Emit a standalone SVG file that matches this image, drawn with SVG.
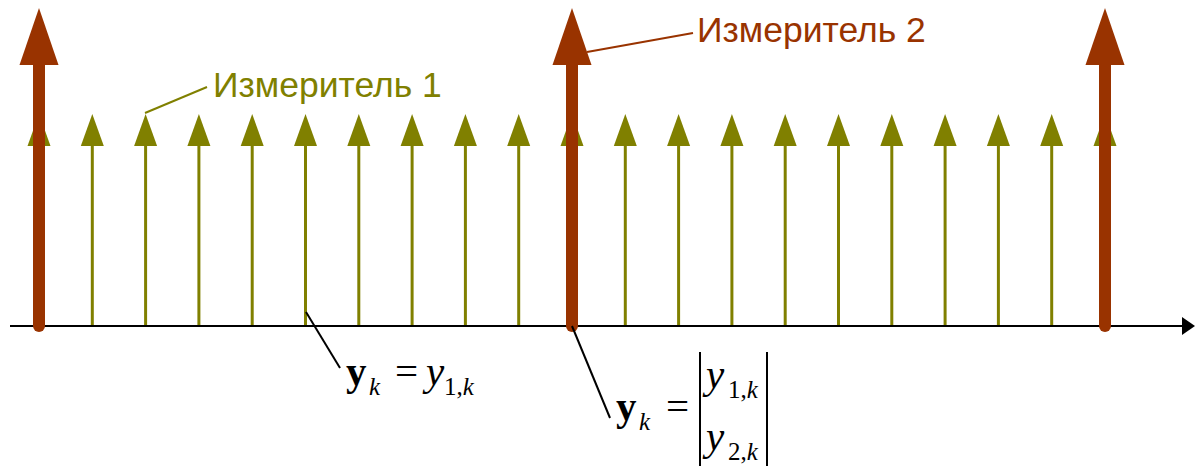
<svg xmlns="http://www.w3.org/2000/svg" width="1195" height="466" viewBox="0 0 1195 466">
<style>
.olive{stroke:#808000;stroke-width:3;fill:none}
.oh{fill:#808000}
.brown{stroke:#993300;stroke-width:12;stroke-linecap:round;fill:none}
.bh{fill:#993300}
.lbl{font-family:"Liberation Sans",Arial,sans-serif;font-size:35.5px}
.m{font-family:"Liberation Serif","Times New Roman",serif;font-size:41px;fill:#000}
.s{font-size:25px}
.lead{stroke:#000;stroke-width:2;fill:none}
</style>
<defs>
<g id="small"><line class="olive" x1="0" y1="140" x2="0" y2="326"/><polygon class="oh" points="0,114 -11.5,146 11.5,146"/></g>
<g id="big"><line class="brown" x1="0" y1="60" x2="0" y2="326"/><polygon class="bh" points="0,8 -19.5,65 19.5,65"/></g>
</defs>
<g id="meter1">
<use href="#small" x="39"/><use href="#small" x="92.3"/><use href="#small" x="145.6"/><use href="#small" x="198.9"/><use href="#small" x="252.2"/><use href="#small" x="305.5"/><use href="#small" x="358.8"/><use href="#small" x="412.1"/><use href="#small" x="465.4"/><use href="#small" x="518.7"/><use href="#small" x="572"/><use href="#small" x="625.3"/><use href="#small" x="678.6"/><use href="#small" x="731.9"/><use href="#small" x="785.2"/><use href="#small" x="838.5"/><use href="#small" x="891.8"/><use href="#small" x="945.1"/><use href="#small" x="998.4"/><use href="#small" x="1051.7"/><use href="#small" x="1105"/>
</g>
<g id="axis">
<line x1="10" y1="326" x2="1184" y2="326" stroke="#000" stroke-width="2"/>
<polygon points="1182,317 1195,326 1182,335" fill="#000"/>
</g>
<g id="meter2">
<use href="#big" x="39"/><use href="#big" x="572"/><use href="#big" x="1105"/>
</g>
<g id="connectors">
<line x1="145" y1="113" x2="207" y2="87" stroke="#808000" stroke-width="2"/>
<line x1="587" y1="52" x2="693" y2="33" stroke="#993300" stroke-width="2"/>
<line class="lead" x1="306" y1="312" x2="340" y2="368"/>
<line class="lead" x1="572" y1="326" x2="610" y2="418"/>
</g>
<g id="label1"><text class="lbl" x="213" y="97" fill="#808000">Измеритель 1</text></g>
<g id="label2"><text class="lbl" x="697" y="42" fill="#993300">Измеритель 2</text></g>
<g id="formula1">
<text class="m" x="346" y="385" font-weight="bold">y</text>
<text class="m s" x="369" y="395" font-style="italic">k</text>
<text class="m" x="395" y="385">=</text>
<text class="m" x="426" y="385" font-style="italic">y</text>
<text class="m s" x="444" y="395">1,<tspan font-style="italic">k</tspan></text>
</g>
<g id="formula2">
<text class="m" x="616" y="420" font-weight="bold">y</text>
<text class="m s" x="639" y="430" font-style="italic">k</text>
<text class="m" x="666" y="420">=</text>
<line x1="700" y1="352" x2="700" y2="466" stroke="#000" stroke-width="2"/>
<line x1="767" y1="352" x2="767" y2="466" stroke="#000" stroke-width="2"/>
<text class="m" x="706" y="388" font-style="italic">y</text>
<text class="m s" x="728" y="398">1,<tspan font-style="italic">k</tspan></text>
<text class="m" x="706" y="450" font-style="italic">y</text>
<text class="m s" x="728" y="460">2,<tspan font-style="italic">k</tspan></text>
</g>
</svg>
